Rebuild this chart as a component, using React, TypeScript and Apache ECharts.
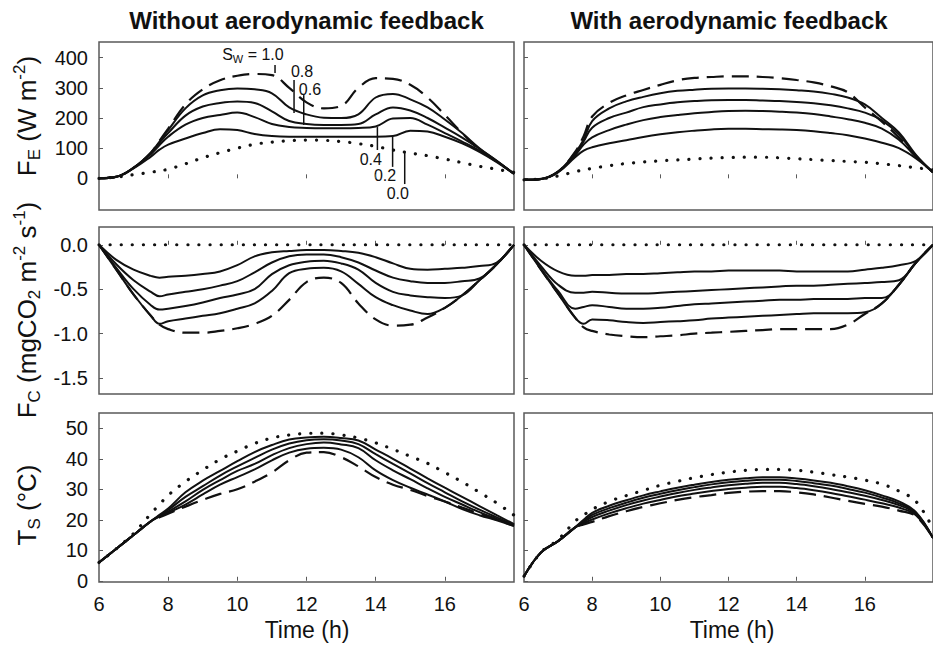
import React, { useEffect, useRef } from "react";
import * as echarts from "echarts";

// Time axis (h)
const HOURS = [6, 6.5, 7, 7.5, 7.75, 8, 8.5, 9, 9.5, 10, 10.5, 11, 11.5, 12, 12.5, 13, 13.5, 14, 14.5, 15, 15.5, 16, 16.5, 17, 17.5, 18];
const SW_LEVELS = ["1.0", "0.8", "0.6", "0.4", "0.2", "0.0"];
const X_TICKS = [8, 10, 12, 14, 16];
const X_LABELS = [6, 8, 10, 12, 14, 16];

// F_E (W m-2), without aerodynamic feedback
const FE_NOFB_10 = [0, 5, 35, 85, 125, 165, 245, 295, 325, 340, 346, 342, 300, 252, 232, 240, 300, 332, 330, 310, 268, 210, 150, 95, 55, 15];
const FE_NOFB_08 = [0, 5, 35, 85, 122, 160, 232, 275, 292, 298, 295, 282, 235, 212, 201, 200, 212, 268, 280, 262, 235, 195, 150, 100, 58, 15];
const FE_NOFB_06 = [0, 5, 35, 84, 118, 150, 208, 238, 250, 255, 250, 222, 190, 180, 177, 177, 180, 212, 235, 225, 200, 168, 135, 98, 58, 15];
const FE_NOFB_04 = [0, 5, 35, 80, 110, 138, 178, 200, 210, 218, 203, 180, 170, 167, 166, 166, 167, 172, 198, 200, 178, 150, 122, 92, 56, 15];
const FE_NOFB_02 = [0, 5, 33, 72, 95, 112, 132, 150, 163, 160, 147, 140, 138, 138, 138, 138, 138, 138, 140, 158, 155, 138, 116, 88, 54, 15];
const FE_NOFB_00 = [0, 4, 12, 20, 25, 30, 48, 68, 85, 100, 113, 120, 125, 127, 126, 122, 115, 106, 94, 84, 75, 64, 52, 40, 30, 20];

// F_E (W m-2), with aerodynamic feedback
const FE_FB_10 = [-5, -2, 22, 88, 140, 205, 250, 275, 293, 310, 325, 333, 336, 338, 338, 336, 332, 326, 318, 305, 285, 235, 188, 135, 72, 20];
const FE_FB_08 = [-5, -2, 22, 85, 128, 190, 232, 255, 270, 282, 290, 294, 297, 298, 298, 297, 295, 292, 288, 280, 268, 245, 200, 152, 78, 20];
const FE_FB_06 = [-5, -2, 22, 80, 122, 168, 200, 218, 236, 245, 252, 256, 259, 260, 260, 258, 256, 253, 249, 242, 232, 218, 192, 145, 75, 20];
const FE_FB_04 = [-5, -2, 22, 76, 112, 136, 160, 178, 193, 203, 210, 216, 220, 223, 224, 223, 221, 218, 213, 205, 196, 184, 165, 128, 72, 20];
const FE_FB_02 = [-5, -2, 20, 70, 92, 103, 116, 126, 137, 146, 153, 158, 162, 164, 164, 163, 162, 160, 156, 150, 143, 132, 118, 100, 66, 20];
const FE_FB_00 = [-5, -2, 8, 22, 28, 33, 42, 49, 54, 58, 61, 64, 67, 69, 70, 70, 68, 65, 62, 59, 56, 53, 48, 42, 35, 28];

// F_C (mgCO2 m-2 s-1), without aerodynamic feedback
const FC_NOFB_10 = [0, -0.28, -0.56, -0.8, -0.9, -0.95, -0.99, -0.99, -0.97, -0.94, -0.89, -0.8, -0.62, -0.42, -0.37, -0.43, -0.66, -0.84, -0.91, -0.9, -0.82, -0.71, -0.57, -0.4, -0.22, 0];
const FC_NOFB_08 = [0, -0.28, -0.56, -0.8, -0.89, -0.86, -0.83, -0.8, -0.77, -0.72, -0.66, -0.52, -0.32, -0.27, -0.26, -0.3, -0.44, -0.59, -0.68, -0.74, -0.78, -0.71, -0.57, -0.4, -0.22, 0];
const FC_NOFB_06 = [0, -0.26, -0.5, -0.68, -0.73, -0.72, -0.69, -0.65, -0.6, -0.56, -0.5, -0.33, -0.23, -0.19, -0.18, -0.21, -0.28, -0.43, -0.53, -0.57, -0.59, -0.6, -0.57, -0.4, -0.22, 0];
const FC_NOFB_04 = [0, -0.22, -0.4, -0.53, -0.58, -0.56, -0.53, -0.5, -0.46, -0.41, -0.31, -0.2, -0.13, -0.11, -0.11, -0.14, -0.2, -0.29, -0.37, -0.41, -0.43, -0.43, -0.41, -0.38, -0.22, 0];
const FC_NOFB_02 = [0, -0.17, -0.28, -0.35, -0.37, -0.36, -0.35, -0.33, -0.3, -0.23, -0.13, -0.085, -0.07, -0.06, -0.06, -0.07, -0.09, -0.14, -0.21, -0.27, -0.28, -0.27, -0.26, -0.24, -0.2, 0];
const FC_NOFB_00 = [0, 0, 0, 0, 0, 0, 0, 0, 0, 0, 0, 0, 0, 0, 0, 0, 0, 0, 0, 0, 0, 0, 0, 0, 0, 0];

// F_C (mgCO2 m-2 s-1), with aerodynamic feedback
const FC_FB_10 = [0, -0.28, -0.55, -0.82, -0.93, -0.97, -1.01, -1.03, -1.04, -1.03, -1.02, -1.0, -0.99, -0.98, -0.97, -0.96, -0.95, -0.95, -0.95, -0.95, -0.9, -0.78, -0.66, -0.45, -0.2, 0];
const FC_FB_08 = [0, -0.28, -0.55, -0.82, -0.89, -0.84, -0.85, -0.87, -0.88, -0.87, -0.86, -0.85, -0.83, -0.82, -0.81, -0.8, -0.79, -0.78, -0.77, -0.77, -0.77, -0.76, -0.66, -0.45, -0.2, 0];
const FC_FB_06 = [0, -0.27, -0.52, -0.72, -0.7, -0.68, -0.7, -0.72, -0.72, -0.71, -0.69, -0.67, -0.66, -0.65, -0.64, -0.63, -0.62, -0.62, -0.61, -0.61, -0.61, -0.6, -0.6, -0.45, -0.2, 0];
const FC_FB_04 = [0, -0.24, -0.45, -0.54, -0.54, -0.53, -0.54, -0.55, -0.55, -0.54, -0.53, -0.52, -0.51, -0.5, -0.49, -0.48, -0.47, -0.46, -0.46, -0.45, -0.44, -0.43, -0.42, -0.4, -0.2, 0];
const FC_FB_02 = [0, -0.18, -0.3, -0.35, -0.35, -0.34, -0.34, -0.33, -0.33, -0.32, -0.31, -0.3, -0.3, -0.29, -0.29, -0.29, -0.29, -0.3, -0.3, -0.3, -0.3, -0.28, -0.26, -0.23, -0.18, 0];
const FC_FB_00 = [0, 0, 0, 0, 0, 0, 0, 0, 0, 0, 0, 0, 0, 0, 0, 0, 0, 0, 0, 0, 0, 0, 0, 0, 0, 0];

// T_S (°C), without aerodynamic feedback
const TS_NOFB_10 = [6, 10.5, 15, 19.5, 20.8, 22, 24.3, 26.5, 28.5, 30, 32.5, 35.5, 39.5, 42, 42.2, 40.5, 37.5, 34, 31.5, 29.8, 27.8, 26, 24, 22, 20, 18];
const TS_NOFB_08 = [6, 10.5, 15, 19.5, 21, 22.3, 25, 28.3, 31.5, 34, 36.5, 39.5, 42, 43.3, 43.6, 43, 40.5, 36.2, 33, 30.5, 28.3, 26, 23.5, 21.5, 19.8, 18];
const TS_NOFB_06 = [6, 10.5, 15, 19.5, 21.2, 22.7, 26, 29.8, 33, 36, 38.3, 41.2, 43.5, 44.8, 45.3, 44.7, 43.5, 39.5, 36.2, 33.3, 30.3, 27.5, 25, 22.5, 20.3, 18.2];
const TS_NOFB_04 = [6, 10.5, 15, 19.5, 21.4, 23.2, 27.5, 31, 34.5, 37.5, 40.3, 43, 45, 46.1, 46.4, 46, 44.8, 41.5, 38.3, 35.2, 32, 29, 26, 23.3, 20.8, 18.4];
const TS_NOFB_02 = [6, 10.5, 15, 19.5, 21.6, 23.7, 29, 32.8, 36, 39.2, 42.2, 44.5, 46.3, 47, 47.2, 46.8, 46, 43, 40, 36.8, 33.6, 30.5, 27.5, 24.5, 21.5, 18.6];
const TS_NOFB_00 = [6, 10.5, 15.5, 22, 25, 28, 32.5, 36.3, 39.8, 42.5, 45, 46.8, 47.8, 48.3, 48.4, 47.8, 46.8, 45.2, 43.1, 40.8, 38.5, 35.5, 32.4, 29, 25.5, 21.5];

// T_S (°C), with aerodynamic feedback
const TS_FB_10 = [1.5, 9.3, 13, 17.5, 18.5, 19.3, 21.2, 22.8, 24.2, 25.4, 26.5, 27.4, 28.1, 28.8, 29.2, 29.4, 29.4, 29, 28.3, 27.3, 26.2, 25.2, 24.3, 23, 21.2, 14];
const TS_FB_08 = [1.5, 9.3, 13, 17.5, 18.8, 20.1, 22.1, 23.8, 25.3, 26.5, 27.7, 28.6, 29.4, 30.1, 30.5, 30.8, 30.8, 30.4, 29.7, 28.8, 27.7, 26.6, 25.4, 24, 21.5, 14];
const TS_FB_06 = [1.5, 9.3, 13, 17.5, 19.2, 20.9, 23, 24.8, 26.3, 27.6, 28.8, 29.8, 30.6, 31.3, 31.8, 32.1, 32.1, 31.7, 31, 30.1, 29, 27.9, 26.5, 24.8, 21.9, 14];
const TS_FB_04 = [1.5, 9.3, 13, 17.5, 19.6, 21.6, 23.8, 25.6, 27.2, 28.5, 29.7, 30.7, 31.6, 32.3, 32.8, 33.1, 33.1, 32.7, 32, 31.2, 30.1, 28.9, 27.3, 25.4, 22.2, 14];
const TS_FB_02 = [1.5, 9.3, 13, 17.5, 20, 22.3, 24.6, 26.4, 28, 29.3, 30.5, 31.5, 32.4, 33.1, 33.6, 33.9, 33.9, 33.5, 32.9, 32.1, 31, 29.7, 28, 26, 22.5, 14];
const TS_FB_00 = [1.5, 9.3, 13.5, 19.5, 21.5, 23.4, 26, 27.9, 29.6, 31.3, 32.6, 33.8, 34.8, 35.6, 36.2, 36.5, 36.5, 36.2, 35.6, 34.8, 34, 33, 31.7, 29.4, 26, 17];

// Y ticks
const FE_TICKS = [0, 100, 200, 300, 400];
const FC_TICKS = [0, -0.5, -1.0, -1.5];
const TS_TICKS = [0, 10, 20, 30, 40, 50];

// Annotation (S_W labels) in data coordinates of the top-left panel
const ANNOT_TEXT = ["{n|S}{s|W}{n| = 1.0}", "0.8", "0.6", "0.4", "0.2", "0.0"];
const ANNOT_TEXT_POS = [[10.45, 409], [11.87, 353], [12.1, 293], [13.86, 61], [14.27, 8], [14.64, -49]];
const ANNOT_LEADERS = [[11.09, 376, 349], [11.64, 326, 217], [11.92, 276, 177], [14.05, 170, 94], [14.49, 138, 38], [14.84, 88, -19]];

const PANEL_TITLES = ["Without aerodynamic feedback", "With aerodynamic feedback"];
const X_NAME = "Time (h)";

const FONT = "'Liberation Sans', Arial, Helvetica, sans-serif";
const INK = "#111";
const FRAME = "#5a5a5a";

const PANELS = [
  { set: [FE_NOFB_10, FE_NOFB_08, FE_NOFB_06, FE_NOFB_04, FE_NOFB_02, FE_NOFB_00] },
  { set: [FE_FB_10, FE_FB_08, FE_FB_06, FE_FB_04, FE_FB_02, FE_FB_00] },
  { set: [FC_NOFB_10, FC_NOFB_08, FC_NOFB_06, FC_NOFB_04, FC_NOFB_02, FC_NOFB_00] },
  { set: [FC_FB_10, FC_FB_08, FC_FB_06, FC_FB_04, FC_FB_02, FC_FB_00] },
  { set: [TS_NOFB_10, TS_NOFB_08, TS_NOFB_06, TS_NOFB_04, TS_NOFB_02, TS_NOFB_00] },
  { set: [TS_FB_10, TS_FB_08, TS_FB_06, TS_FB_04, TS_FB_02, TS_FB_00] },
];

const COL_LEFT = [99, 524];
const COL_WIDTH = [415, 416];
const ROW_TOP = [42, 227, 413];
const ROW_HEIGHT = [168, 167, 169];
const ROW_RANGE = [
  { min: -105, max: 452, ticks: FE_TICKS, fmt: (v: number) => String(v) },
  { min: -1.68, max: 0.2, ticks: FC_TICKS, fmt: (v: number) => v.toFixed(1) },
  { min: -0.4, max: 55, ticks: TS_TICKS, fmt: (v: number) => String(v) },
];

function lineStyleFor(i: number) {
  if (i === 0) return { color: INK, width: 2.2, type: [17, 8] as any, cap: "butt" as const };
  if (i === 5) return { color: INK, width: 3.2, type: [0.1, 11] as any, cap: "round" as const };
  return { color: INK, width: 2, type: "solid" as const };
}

export default function App() {
  const ref = useRef<HTMLDivElement>(null);
  useEffect(() => {
    if (!ref.current) return;
    const chart = echarts.init(ref.current, null, { renderer: "svg" });
    const grids: any[] = [];
    const xAxes: any[] = [];
    const yAxes: any[] = [];
    const series: any[] = [];
    for (let r = 0; r < 3; r++) {
      for (let c = 0; c < 2; c++) {
        const gi = r * 2 + c;
        const rr = ROW_RANGE[r];
        grids.push({
          left: COL_LEFT[c],
          top: ROW_TOP[r],
          width: COL_WIDTH[c],
          height: ROW_HEIGHT[r],
          show: true,
          borderColor: FRAME,
          borderWidth: 1.5,
          backgroundColor: "transparent",
        });
        xAxes.push({
          type: "value",
          gridIndex: gi,
          min: 6,
          max: 18,
          interval: 2,
          axisLine: { show: false },
          splitLine: { show: false },
          axisTick: {
            show: true,
            inside: true,
            length: 4,
            customValues: X_TICKS,
            lineStyle: { color: FRAME, width: 1 },
          },
          axisLabel: {
            show: r === 2,
            customValues: X_LABELS,
            margin: 12,
            fontSize: 20,
            fontFamily: FONT,
            color: INK,
          },
        });
        yAxes.push({
          type: "value",
          gridIndex: gi,
          min: rr.min,
          max: rr.max,
          axisLine: { show: false },
          splitLine: { show: false },
          axisTick: {
            show: true,
            inside: true,
            length: 4,
            customValues: rr.ticks,
            lineStyle: { color: FRAME, width: 1 },
          },
          axisLabel: {
            show: c === 0,
            customValues: rr.ticks,
            formatter: rr.fmt,
            margin: 11,
            fontSize: 20,
            fontFamily: FONT,
            color: INK,
          },
        });
        PANELS[gi].set.forEach((vals, i) => {
          series.push({
            type: "line",
            name: `Sw ${SW_LEVELS[i]} (${gi})`,
            xAxisIndex: gi,
            yAxisIndex: gi,
            data: HOURS.map((h, k) => [h, vals[k]]),
            symbol: "none",
            smooth: 0.4,
            silent: true,
            lineStyle: lineStyleFor(i),
            z: i === 5 ? 2 : 3,
          });
        });
      }
    }
    chart.setOption({
      animation: false,
      backgroundColor: "#fff",
      grid: grids,
      xAxis: xAxes,
      yAxis: yAxes,
      series,
    });

    const px = (h: number, v: number) => chart.convertToPixel({ gridIndex: 0 } as any, [h, v]) as number[];
    const graphics: any[] = [];
    // panel titles
    PANEL_TITLES.forEach((t, c) => {
      graphics.push({
        type: "text",
        x: COL_LEFT[c] + (c === 0 ? COL_WIDTH[c] / 2 : 205),
        y: 20,
        style: {
          text: t,
          fontSize: 24,
          fontWeight: "bold",
          fontFamily: FONT,
          fill: INK,
          align: "center",
          verticalAlign: "middle",
        },
      });
      graphics.push({
        type: "text",
        x: COL_LEFT[c] + 208,
        y: 630,
        style: {
          text: X_NAME,
          fontSize: 23,
          fontFamily: FONT,
          fill: INK,
          align: "center",
          verticalAlign: "middle",
        },
      });
    });
    // y axis titles
    const richY = {
      m: { fontSize: 26, fontFamily: FONT, fill: INK, lineHeight: 32 },
      sub: { fontSize: 17, fontFamily: FONT, fill: INK, lineHeight: 17, verticalAlign: "bottom" },
      sup: { fontSize: 17, fontFamily: FONT, fill: INK, lineHeight: 17, verticalAlign: "top" },
    };
    const yTitles = [
      { text: "{m|F}{sub|E}{m| (W m}{sup|-2}{m|)}", y: 116 },
      { text: "{m|F}{sub|C}{m| (mgCO}{sub|2}{m| m}{sup|-2}{m| s}{sup|-1}{m|)}", y: 310 },
      { text: "{m|T}{sub|S}{m| (°C)}", y: 505 },
    ];
    yTitles.forEach((t) => {
      graphics.push({
        type: "text",
        x: 27,
        y: t.y,
        rotation: Math.PI / 2,
        style: { text: t.text, rich: richY, align: "center", verticalAlign: "middle", fill: INK },
      });
    });
    // S_W annotations
    const richA = {
      n: { fontSize: 16, fontFamily: FONT, fill: INK, lineHeight: 20 },
      s: { fontSize: 11, fontFamily: FONT, fill: INK, lineHeight: 11, verticalAlign: "bottom" },
    };
    ANNOT_TEXT.forEach((t, i) => {
      const p = px(ANNOT_TEXT_POS[i][0], ANNOT_TEXT_POS[i][1]);
      graphics.push({
        type: "text",
        x: p[0],
        y: p[1],
        style: {
          text: i === 0 ? t : `{n|${t}}`,
          rich: richA,
          align: "center",
          verticalAlign: "middle",
          fill: INK,
        },
      });
      const a = px(ANNOT_LEADERS[i][0], ANNOT_LEADERS[i][1]);
      const b = px(ANNOT_LEADERS[i][0], ANNOT_LEADERS[i][2]);
      graphics.push({
        type: "line",
        shape: { x1: a[0], y1: a[1], x2: b[0], y2: b[1] },
        style: { stroke: INK, lineWidth: 1.5 },
        z: 10,
      });
    });
    chart.setOption({ graphic: graphics });
    return () => chart.dispose();
  }, []);
  return (
    <div
      ref={ref}
      style={{ position: "absolute", left: 0, top: 0, width: 933, height: 650, background: "#fff" }}
    />
  );
}
